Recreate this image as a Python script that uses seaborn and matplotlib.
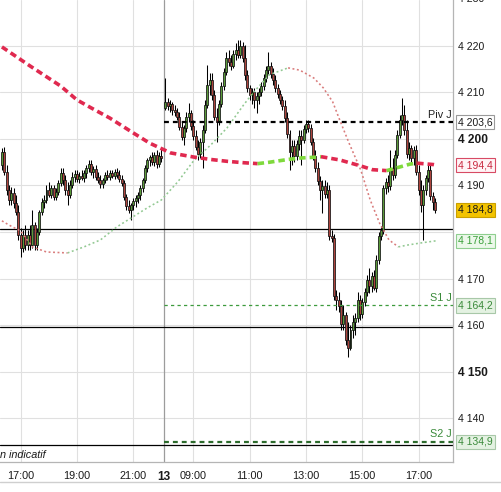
import numpy as np
import pandas as pd
import matplotlib
matplotlib.use("Agg")
import matplotlib.pyplot as plt
import matplotlib.transforms as mtransforms
from matplotlib.lines import Line2D
import seaborn as sns

# ---------------- data ----------------
# Day 12 : 5-minute candles 16:20 -> 22:00
d12_open = [4194.4, 4197.2, 4192.9, 4189.0, 4186.9, 4188.4, 4186.2, 4184.3,
            4179.4, 4176.6, 4179.4, 4177.2, 4179.4, 4177.2, 4181.5, 4177.2, 4180.0, 4184.3,
            4186.5, 4186.9, 4189.0, 4188.0, 4189.5, 4187.5, 4188.6, 4190.5, 4192.7, 4191.2,
            4189.0, 4188.0, 4190.1, 4191.8, 4192.5, 4191.4, 4192.0, 4191.6, 4192.7, 4193.8,
            4194.6, 4192.9, 4193.6, 4191.8, 4191.2, 4190.3, 4191.2, 4192.3, 4191.8, 4192.7,
            4192.0, 4192.9, 4192.3, 4191.4, 4190.5, 4187.5, 4185.6, 4184.7, 4185.8, 4186.7,
            4187.3, 4188.0, 4189.5, 4191.2, 4193.8, 4195.5, 4196.1, 4195.1, 4196.6, 4194.6,
            4196.3]
d12_high = [4198.1, 4198.3, 4194.4, 4190.1, 4189.7, 4189.5, 4188.0, 4185.8,
            4180.9, 4180.4, 4181.5, 4180.4, 4181.5, 4184.7, 4182.2, 4180.9, 4184.7, 4187.3,
            4188.0, 4190.1, 4190.8, 4190.1, 4190.1, 4189.5, 4191.2, 4193.8, 4193.8, 4192.3,
            4190.8, 4191.2, 4192.9, 4193.3, 4193.3, 4192.9, 4193.3, 4193.3, 4194.4, 4195.5,
            4195.5, 4194.2, 4194.4, 4192.9, 4192.3, 4191.6, 4192.9, 4193.3, 4193.3, 4193.3,
            4193.6, 4193.8, 4193.3, 4192.3, 4191.2, 4188.2, 4186.9, 4186.2, 4187.3, 4188.0,
            4188.6, 4190.1, 4191.6, 4194.4, 4195.9, 4196.6, 4197.2, 4197.2, 4197.6, 4197.2,
            4198.1]
d12_low = [4193.3, 4192.3, 4188.0, 4185.8, 4185.8, 4185.2, 4183.7, 4178.3,
           4174.6, 4175.7, 4176.1, 4176.1, 4176.1, 4176.6, 4176.1, 4176.1, 4179.4, 4183.7,
           4185.2, 4186.2, 4187.5, 4187.3, 4186.9, 4186.9, 4188.0, 4189.9, 4190.1, 4188.0,
           4185.8, 4187.3, 4189.5, 4190.8, 4190.8, 4190.5, 4191.2, 4190.8, 4191.6, 4192.9,
           4192.3, 4191.6, 4191.2, 4190.5, 4189.5, 4189.5, 4190.5, 4191.2, 4191.2, 4191.6,
           4191.4, 4191.6, 4190.8, 4189.9, 4186.9, 4184.7, 4184.1, 4182.6, 4184.7, 4185.4,
           4186.2, 4186.9, 4188.6, 4190.5, 4192.9, 4194.2, 4194.4, 4194.2, 4193.8, 4194.0,
           4195.1]
d12_close = [4197.2, 4192.9, 4189.0, 4186.9, 4188.4, 4186.2, 4184.3, 4179.4,
             4176.6, 4179.4, 4177.2, 4179.4, 4177.2, 4181.5, 4177.2, 4180.0, 4184.3, 4186.5,
             4186.9, 4189.0, 4188.0, 4189.5, 4187.5, 4188.6, 4190.5, 4192.7, 4191.2, 4189.0,
             4188.0, 4190.1, 4191.8, 4192.5, 4191.4, 4192.0, 4191.6, 4192.7, 4193.8, 4194.6,
             4192.9, 4193.6, 4191.8, 4191.2, 4190.3, 4191.2, 4192.3, 4191.8, 4192.7, 4192.0,
             4192.9, 4192.3, 4191.4, 4190.5, 4187.5, 4185.6, 4184.7, 4185.8, 4186.7, 4187.3,
             4188.0, 4189.5, 4191.2, 4193.8, 4195.5, 4196.1, 4195.1, 4196.6, 4194.6, 4196.3,
             4195.9]

# Day 13 : 5-minute candles 08:00 -> 17:35
d13_open = [4206.7, 4208.0, 4207.1, 4207.5, 4206.2, 4205.8, 4204.7, 4202.6, 4200.4, 4202.4,
            4204.7, 4205.6, 4202.8, 4200.7, 4198.3, 4196.8, 4199.4, 4201.9, 4207.3, 4211.6,
            4212.7, 4209.5, 4204.7, 4203.7, 4207.5, 4211.4, 4214.4, 4217.4, 4216.6, 4215.7,
            4218.3, 4219.1, 4218.1, 4220.0, 4217.4, 4213.8, 4211.0, 4209.5, 4210.1, 4208.4,
            4209.3, 4210.1, 4211.4, 4213.1, 4214.8, 4215.7, 4214.0, 4212.7, 4211.0, 4209.7,
            4208.4, 4207.1, 4204.5, 4201.1, 4197.2, 4198.5, 4196.3, 4198.9, 4200.7, 4199.8,
            4202.2, 4203.2, 4202.4, 4199.4, 4196.3, 4193.8, 4191.0, 4189.0, 4189.9, 4188.2,
            4189.0, 4179.1, 4178.7, 4166.2, 4165.4, 4164.1, 4160.2, 4162.2, 4156.8, 4155.1,
            4158.9, 4160.7, 4161.5, 4165.4, 4162.4, 4165.0, 4167.1, 4169.7, 4168.4, 4170.5,
            4168.0, 4174.0, 4179.1, 4180.4, 4189.5, 4190.8, 4189.9, 4193.8, 4192.3, 4196.6,
            4200.9, 4204.1, 4205.2, 4201.9, 4196.8, 4198.1, 4195.9, 4197.6, 4192.9, 4189.0,
            4185.8, 4189.0, 4191.6, 4193.3, 4187.7, 4186.5]
d13_high = [4213.1, 4208.8, 4208.4, 4208.0, 4207.3, 4206.7, 4205.8, 4203.7, 4203.0, 4205.8,
            4207.7, 4206.2, 4204.1, 4201.9, 4199.8, 4200.2, 4203.0, 4208.4, 4215.9, 4214.2,
            4214.2, 4210.5, 4206.7, 4208.4, 4212.3, 4215.3, 4218.7, 4219.1, 4218.1, 4219.1,
            4220.6, 4221.3, 4221.3, 4220.9, 4220.2, 4214.8, 4211.6, 4211.0, 4211.0, 4210.1,
            4211.0, 4212.3, 4214.0, 4215.7, 4218.7, 4216.6, 4215.3, 4213.8, 4211.8, 4210.5,
            4209.3, 4208.4, 4205.8, 4201.9, 4199.8, 4199.8, 4199.8, 4201.9, 4201.9, 4203.0,
            4204.1, 4204.1, 4203.2, 4200.2, 4197.6, 4195.1, 4192.0, 4191.2, 4191.2, 4190.8,
            4190.1, 4180.4, 4179.6, 4167.5, 4167.1, 4165.4, 4164.3, 4162.8, 4160.7, 4160.0,
            4162.2, 4162.6, 4167.1, 4166.5, 4165.8, 4168.0, 4170.8, 4172.3, 4171.4, 4171.8,
            4175.1, 4180.0, 4181.3, 4190.1, 4191.6, 4192.3, 4197.6, 4195.9, 4197.6, 4201.9,
            4205.2, 4208.8, 4207.3, 4204.1, 4199.4, 4198.7, 4198.5, 4198.7, 4194.4, 4191.2,
            4190.1, 4192.3, 4194.8, 4194.4, 4188.6, 4187.3]
d13_low = [4206.2, 4206.2, 4205.8, 4205.2, 4204.9, 4204.1, 4201.9, 4199.8, 4198.7, 4201.5,
           4203.7, 4201.9, 4199.8, 4197.6, 4195.5, 4195.9, 4193.8, 4201.3, 4206.7, 4209.5,
           4208.4, 4204.1, 4199.4, 4203.0, 4206.9, 4210.5, 4213.8, 4215.7, 4214.8, 4215.3,
           4217.0, 4217.4, 4217.4, 4216.6, 4212.7, 4210.1, 4208.4, 4207.5, 4206.7, 4205.6,
           4207.5, 4209.3, 4210.5, 4212.3, 4214.0, 4213.1, 4211.6, 4210.1, 4208.8, 4207.5,
           4206.2, 4203.7, 4200.2, 4193.3, 4194.4, 4195.1, 4195.5, 4197.6, 4194.4, 4199.1,
           4201.3, 4201.5, 4198.7, 4195.5, 4192.9, 4190.1, 4186.9, 4184.1, 4187.3, 4187.3,
           4178.3, 4177.9, 4165.4, 4163.2, 4162.8, 4158.9, 4158.9, 4155.7, 4153.1, 4154.6,
           4157.2, 4157.9, 4160.7, 4161.1, 4161.5, 4164.1, 4166.2, 4166.9, 4167.1, 4167.5,
           4167.1, 4173.1, 4178.3, 4179.6, 4188.2, 4188.6, 4189.0, 4191.2, 4191.6, 4195.9,
           4200.2, 4203.0, 4200.9, 4195.9, 4195.5, 4195.1, 4194.4, 4192.3, 4188.0, 4184.3,
           4178.3, 4188.0, 4190.8, 4186.9, 4184.7, 4184.1]
d13_close = [4208.0, 4207.1, 4207.5, 4206.2, 4205.8, 4204.7, 4202.6, 4200.4, 4202.4, 4204.7,
             4205.6, 4202.8, 4200.7, 4198.3, 4196.8, 4199.4, 4201.9, 4207.3, 4211.6, 4212.7,
             4209.5, 4204.7, 4203.7, 4207.5, 4211.4, 4214.4, 4217.4, 4216.6, 4215.7, 4218.3,
             4219.1, 4218.1, 4220.0, 4217.4, 4213.8, 4211.0, 4209.5, 4210.1, 4208.4, 4209.3,
             4210.1, 4211.4, 4213.1, 4214.8, 4215.7, 4214.0, 4212.7, 4211.0, 4209.7, 4208.4,
             4207.1, 4204.5, 4201.1, 4197.2, 4198.5, 4196.3, 4198.9, 4200.7, 4199.8, 4202.2,
             4203.2, 4202.4, 4199.4, 4196.3, 4193.8, 4191.0, 4189.0, 4189.9, 4188.2, 4189.0,
             4179.1, 4178.7, 4166.2, 4165.4, 4164.1, 4160.2, 4162.2, 4156.8, 4155.1, 4158.9,
             4160.7, 4161.5, 4165.4, 4162.4, 4165.0, 4167.1, 4169.7, 4168.4, 4170.5, 4168.0,
             4174.0, 4179.1, 4180.4, 4189.5, 4190.8, 4189.9, 4193.8, 4192.3, 4196.6, 4200.9,
             4204.1, 4205.2, 4201.9, 4196.8, 4198.1, 4195.9, 4197.6, 4192.9, 4189.0, 4185.8,
             4189.0, 4191.6, 4193.3, 4187.7, 4186.5, 4184.8]

# slow moving average (thick dashed) : slot (5 min from 17:00 day 12) / value
ma_slow_pos = [-8, 4, 17, 24, 30, 38, 48, 55, 64, 74, 81, 88, 95, 101, 106, 114, 119,
               126, 128, 136, 145, 150, 156, 161, 166, 169, 176, 177]
ma_slow_val = [4219.8, 4215.7, 4211.4, 4208.4, 4206.7, 4204.5, 4201.3, 4199.1, 4197.0,
               4196.1, 4195.6, 4195.2, 4194.9, 4194.7, 4195.0, 4195.6, 4195.9, 4196.1,
               4196.2, 4195.5, 4194.2, 4193.4, 4193.2, 4193.9, 4194.6, 4194.8, 4194.5, 4194.4]
# fast moving average (thin dotted)
ma_fast_pos = [-8, -5, 0, 5, 11, 20, 27, 34, 41, 47, 54, 60, 67, 74, 81, 88, 95, 99, 106,
               114, 119, 125, 129, 133, 136, 140, 145, 149, 153, 157, 161, 165, 170, 177]
ma_fast_val = [4182.4, 4181.5, 4180.2, 4176.8, 4175.7, 4175.5, 4176.8, 4178.3, 4181.1,
               4183.0, 4185.2, 4186.9, 4190.8, 4195.5, 4198.7, 4202.4, 4207.3, 4209.9,
               4213.8, 4215.3, 4214.8, 4213.1, 4211.0, 4208.0, 4204.1, 4199.1, 4193.3,
               4186.9, 4181.9, 4178.3, 4176.8, 4177.2, 4177.6, 4178.1]

pivot_j, s1_j, s2_j = 4203.6, 4164.2, 4134.9
prev_levels = [4180.6, 4159.6, 4134.2]
last_price = 4184.8
slow_last, fast_last = 4194.4, 4178.1

x_tick_labels = ["17:00", "19:00", "21:00", "13", "09:00", "11:00", "13:00", "15:00", "17:00"]
y_tick_values = [4140, 4150, 4160, 4170, 4180, 4190, 4200, 4210, 4220]

# ---------------- layout helpers ----------------
X_MIN, X_MAX = -8.82, 184.3
Y_MIN, Y_MAX = 4130.54, 4229.89
DAY13_START = 61.6
SEP = 61.2
xtick_pos = [0, 24, 48, SEP, 73.6, 97.6, 121.6, 145.6, 169.6]

sns.set_theme(style="white")
plt.rcParams['font.family'] = ['Liberation Sans', 'DejaVu Sans']

fig = plt.figure(figsize=(5.01, 4.92), dpi=100)
ax = fig.add_axes([0, 30 / 492, 453 / 501, 462 / 492])

# grid
for yv in y_tick_values:
    ax.axhline(yv, color='#e0e0e0', lw=0.8, zorder=0)
for xv in xtick_pos:
    if xv != SEP:
        ax.axvline(xv, color='#e0e0e0', lw=0.8, zorder=0)
ax.axvline(SEP, color='#9c9c9c', lw=0.9, zorder=1)

# previous-day levels
for lv in prev_levels:
    ax.axhline(lv, color='black', lw=0.9, zorder=2)

# pivot lines (day 13 only)
ax.hlines(pivot_j, SEP, X_MAX, colors='black', lw=1.6, linestyles=[(0, (2.2, 1.8))], zorder=6)
ax.hlines(s1_j, SEP, X_MAX, colors='#3d9b3d', lw=0.9, linestyles=[(0, (2.6, 2.6))], zorder=6)
ax.hlines(s2_j, SEP, X_MAX, colors='#2d6b2d', lw=1.6, linestyles=[(0, (2.2, 1.8))], zorder=6)
ax.text(183.6, pivot_j + 0.5, "Piv J", ha='right', va='bottom', fontsize=7.8, color='#222222', zorder=7)
ax.text(183.6, s1_j + 0.5, "S1 J", ha='right', va='bottom', fontsize=7.8, color='#3a8a3a', zorder=7)
ax.text(183.6, s2_j + 0.5, "S2 J", ha='right', va='bottom', fontsize=7.8, color='#3a8a3a', zorder=7)

# candles
pos12 = np.arange(-8, -8 + len(d12_open))
pos13 = DAY13_START + np.arange(len(d13_open))
cx = np.concatenate([pos12, pos13])
co = np.array(d12_open + d13_open)
ch = np.array(d12_high + d13_high)
cl = np.array(d12_low + d13_low)
cc = np.array(d12_close + d13_close)
up = cc >= co
ax.vlines(cx, cl, ch, color='black', lw=0.75, zorder=3)
ax.bar(cx, np.maximum(np.abs(cc - co), 0.2), bottom=np.minimum(co, cc), width=0.84,
       color=np.where(up, '#5a9a3a', '#ad443d'), edgecolor='#111111', linewidth=0.55, zorder=4)


def trend_line(pos, val, up_col, down_col, lw, ls, z):
    pos = np.asarray(pos, float)
    val = np.asarray(val, float)
    d = np.sign(np.diff(val))
    start = 0
    for i in range(1, len(d) + 1):
        if i == len(d) or d[i] != d[start]:
            seg = pd.DataFrame({'x': pos[start:i + 1], 'y': val[start:i + 1]})
            sns.lineplot(data=seg, x='x', y='y', ax=ax, color=up_col if d[start] > 0 else down_col,
                         lw=lw, linestyle=ls, sort=False, estimator=None, zorder=z)
            start = i


trend_line(ma_fast_pos, ma_fast_val, '#93c993', '#d97c7c', 1.15, (0, (1.2, 1.6)), 5)
trend_line(ma_slow_pos, ma_slow_val, '#7fd93c', '#e0294f', 2.6, (0, (1.8, 1.1)), 6)

# axes
ax.set_xlim(X_MIN, X_MAX)
ax.set_ylim(Y_MIN, Y_MAX)
ax.set_xlabel('')
ax.set_ylabel('')
for s in ['top', 'left']:
    ax.spines[s].set_visible(False)
for s in ['right', 'bottom']:
    ax.spines[s].set_color('#b5b5b5')
    ax.spines[s].set_linewidth(0.9)

ax.yaxis.tick_right()
ax.set_yticks(y_tick_values)
ylabels = []
for v in y_tick_values:
    ylabels.append('' if v == 4180 else f"{v // 1000} {v % 1000:03d}")
ax.set_yticklabels(ylabels)
ax.tick_params(axis='y', length=0, pad=3.6, labelsize=7.6, labelcolor='#1a1a1a')
for lab, v in zip(ax.get_yticklabels(), y_tick_values):
    if v in (4200, 4150):
        lab.set_fontweight('bold')
        lab.set_fontsize(8.6)

ax.set_xticks(xtick_pos)
ax.set_xticklabels(x_tick_labels)
ax.tick_params(axis='x', length=4, color='#d5d5d5', width=0.8, pad=2.2, labelsize=7.8, labelcolor='#1a1a1a')
for lab in ax.get_xticklabels():
    if lab.get_text() == '13':
        lab.set_fontweight('bold')
        lab.set_fontsize(8.6)

trans = mtransforms.blended_transform_factory(ax.transAxes, ax.transData)
ax.text(1.011, 4230, "4 230", transform=trans, ha='left', va='center', fontsize=7.6,
        color='#1a1a1a', clip_on=False)


def value_box(v, fc, ec, tc):
    txt = f"{int(v) // 1000} {int(v) % 1000:03d},{int(round(v * 10)) % 10}"
    ax.text(1.0105, v, txt, transform=trans, ha='left', va='center', fontsize=7.5, color=tc,
            bbox=dict(boxstyle='square,pad=0.2', fc=fc, ec=ec, lw=0.8), clip_on=False, zorder=10)


value_box(pivot_j, 'white', '#9a9a9a', '#1a1a1a')
value_box(slow_last, '#fff4f6', '#d84a64', '#c8283f')
value_box(last_price, '#f3c300', '#caa000', '#1a1a1a')
value_box(fast_last, '#ecf8ea', '#8fcf8f', '#3aa03a')
value_box(s1_j, '#e4f2e2', '#a8c8a8', '#3a8a3a')
value_box(s2_j, '#e4f2e2', '#a8c8a8', '#3a8a3a')

ax.text(X_MIN, 4132.0, "n indicatif", style='italic', fontsize=7.8, ha='left', va='center',
        color='#1a1a1a', zorder=7)

fig.add_artist(Line2D([0, 1], [10 / 492, 10 / 492], color='#cfcfcf', lw=1.0))

fig.savefig("out.png", dpi=100)
